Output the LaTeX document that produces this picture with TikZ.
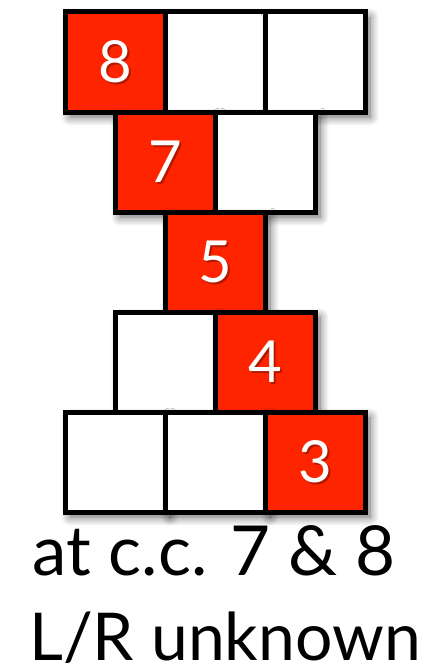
\documentclass[tikz,border=0pt]{standalone}
\usepackage{fontspec}
\setmainfont{Lato}
\usetikzlibrary{shadows.blur}
\definecolor{boxred}{RGB}{255,36,0}
\begin{document}
\begin{tikzpicture}[x=1pt,y=-1pt,
  cell/.style={draw=black,line width=5pt,minimum size=100pt,inner sep=0pt,fill=white,
    blur shadow={shadow xshift=5pt,shadow yshift=-5pt,shadow blur radius=9pt,shadow blur steps=10,shadow opacity=60}},
  redcell/.style={cell,fill=boxred},
  num/.style={text=white,font=\fontsize{58}{60}\selectfont},
  numshadow/.style={num,text=black,opacity=0.3},
  caption/.style={text=black,inner sep=0pt}]
\useasboundingbox (0,0) rectangle (435,669);
% row 1
\node[redcell] (r1a) at (115,62) {};
\node[cell] (r1b) at (215,62) {};
\node[cell] (r1c) at (315,62) {};
% row 2
\node[redcell] (r2a) at (165,162) {};
\node[cell] (r2b) at (265,162) {};
% row 3
\node[redcell] (r3a) at (215,262) {};
% row 4
\node[cell] (r4a) at (165,362) {};
\node[redcell] (r4b) at (265,362) {};
% row 5
\node[cell] (r5a) at (115,462) {};
\node[cell] (r5b) at (215,462) {};
\node[redcell] (r5c) at (315,462) {};
% numbers
\foreach \n/\t in {r1a/8,r2a/7,r3a/5,r4b/4,r5c/3}{
  \node[numshadow] (s\n) at ([xshift=2pt,yshift=-2pt]\n.center) {\t};
  \node[num] (t\n) at (\n.center) {\t};
}
% captions
\node[caption,anchor=base,font=\fontsize{69}{72}\selectfont] (cap1) at (214,575) {at c.c. 7 \& 8};
\node[caption,anchor=base,font=\fontsize{66}{70}\selectfont] (cap2) at (225,660) {L/R unknown};
\end{tikzpicture}
\end{document}
